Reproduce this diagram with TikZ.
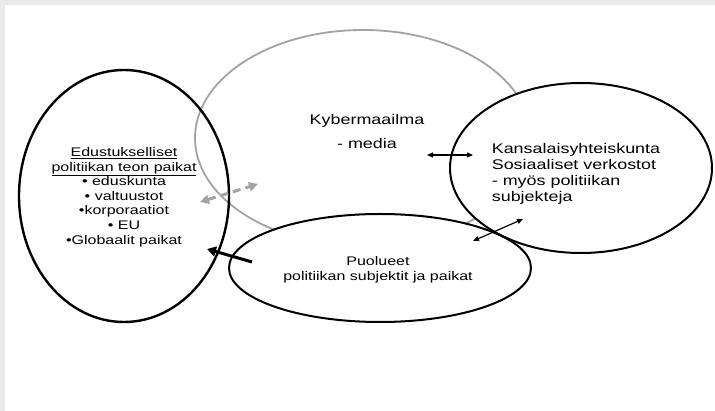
\documentclass[tikz,border=0pt]{standalone}
\usepackage{fontspec}
\setmainfont{Liberation Sans}
\usetikzlibrary{arrows.meta,shapes.geometric}
\definecolor{pagegray}{HTML}{E9EAEC}
\definecolor{cybergray}{HTML}{A3A3A3}

\begin{document}
\begin{tikzpicture}[x=1pt, y=-1pt,
    oval/.style={ellipse, draw=black, line width=2pt, inner sep=0pt},
    txt/.style={xscale=1.28, align=center, inner sep=0pt},
    link/.style={{Triangle[length=6pt,width=5pt]}-{Triangle[length=6pt,width=5pt]}, line width=1.2pt}]
  % Background
  \fill[pagegray] (0,0) rectangle (715,411);
  \fill[white] (5,5) rectangle (715,411);
  \useasboundingbox (0,0) rectangle (715,411);

  % Ellipses
  \node[oval, draw=cybergray, line width=1.8pt, minimum width=336pt, minimum height=216pt] (kyber) at (363,138) {};
  \node[oval, line width=2.4pt, minimum width=210pt, minimum height=252pt] (edus) at (124,196) {};
  \coordinate (cKansa) at (581,168);
  \coordinate (cPuol) at (380,268);
  \fill[white] (cKansa) ellipse [x radius=131pt, y radius=85pt];
  \fill[white] (cPuol) ellipse [x radius=151pt, y radius=54pt];
  \node[oval, minimum width=262pt, minimum height=170pt] (kansa) at (cKansa) {};
  \node[oval, minimum width=302pt, minimum height=108pt] (puol) at (cPuol) {};

  % Texts
  \node[txt, font=\fontsize{14}{16}\selectfont] (kybertxt) at (367,131) {Kybermaailma\\[8pt]- media};
  \node[txt, font=\fontsize{12.5}{14.6}\selectfont] (edustxt) at (124,197)
    {\underline{Edustukselliset}\\ \underline{politiikan teon paikat}\\ \textbullet{} eduskunta\\ \textbullet{} valtuustot\\ \textbullet korporaatiot\\ \textbullet{} EU\\ \textbullet Globaalit paikat};
  \node[txt, align=left, font=\fontsize{14}{16}\selectfont] (kansatxt) at (576,174)
    {Kansalaisyhteiskunta\\ Sosiaaliset verkostot\\ - myös politiikan\\ subjekteja};
  \node[txt, font=\fontsize{12.5}{15}\selectfont] (puoltxt) at (378,270) {Puolueet\\ politiikan subjektit ja paikat};

  % Arrows
  \coordinate (kyberE) at (427,155);
  \coordinate (kansaW) at (473,155);
  \coordinate (puolNE) at (473,241);
  \coordinate (kansaSW) at (523,219);
  \coordinate (puolW) at (252,262);
  \coordinate (edusE) at (207,249);
  \coordinate (edusNE) at (200,202);
  \coordinate (kyberSW) at (258,184);
  \draw[link] (kyberE) -- (kansaW);
  \draw[link] (puolNE) -- (kansaSW);
  \draw[-{Triangle[length=9pt,width=10pt]}, line width=3pt] (puolW) -- (edusE);
  \draw[{Triangle[length=9pt,width=9pt]}-{Triangle[length=9pt,width=9pt]}, cybergray, line width=3pt, dash pattern=on 8pt off 5pt] (edusNE) -- (kyberSW);
\end{tikzpicture}
\end{document}
